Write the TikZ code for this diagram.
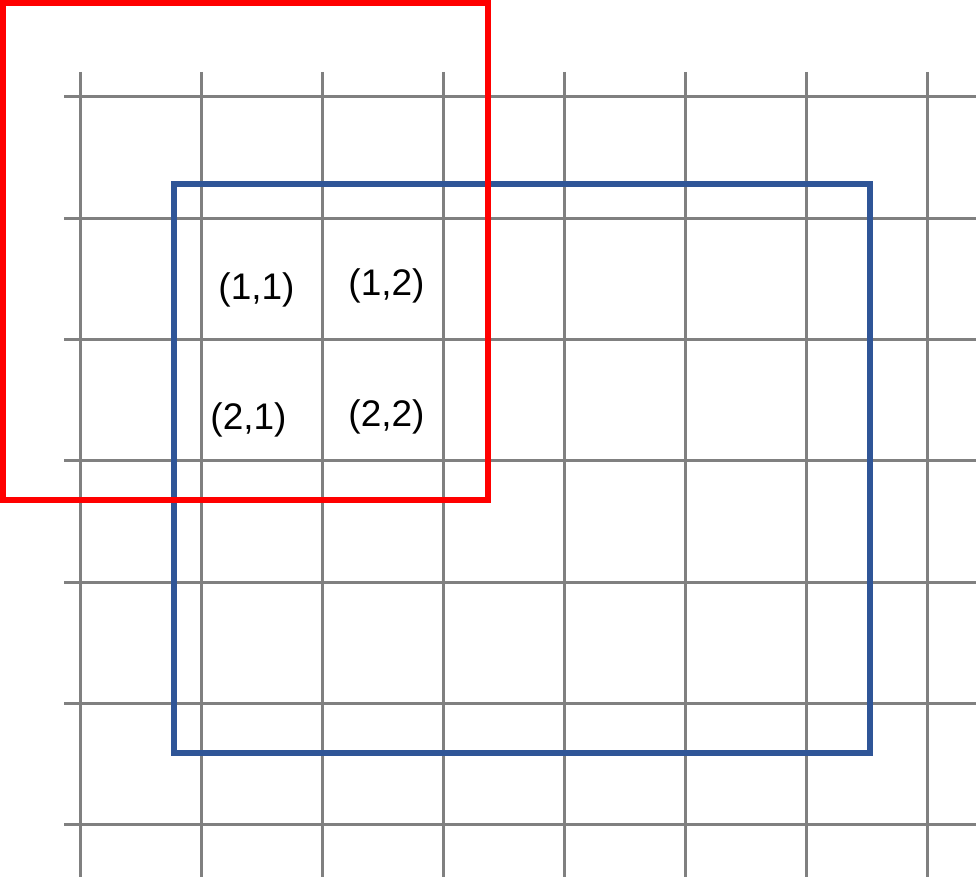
\documentclass[tikz,border=0pt]{standalone}
\usepackage{fontspec}
\setmainfont{Liberation Sans}
\definecolor{gridgray}{RGB}{128,128,128}
\definecolor{winblue}{RGB}{47,85,151}
\definecolor{winred}{RGB}{255,0,0}
\tikzstyle{grid line}=[draw=gridgray, line width=3pt]
\tikzstyle{window}=[line width=6pt]
\tikzstyle{cell label}=[inner sep=0pt, font=\fontsize{37}{40}\selectfont]

\begin{document}
\begin{tikzpicture}[x=1pt, y=-1pt]
      \useasboundingbox (0, 0) rectangle (976, 877);
      % grid
      \foreach \i in {0,...,7}
        \draw[grid line] (80+121*\i, 72) -- (80+121*\i, 877);
      \foreach \j in {0,...,6}
        \draw[grid line] (64, 97+121.3*\j) -- (976, 97+121.3*\j);
      % cell labels
      \node[cell label] (c11) at (256.5, 290) {(1,1)};
      \node[cell label] (c12) at (386.5, 286) {(1,2)};
      \node[cell label] (c21) at (248.5, 420) {(2,1)};
      \node[cell label] (c22) at (386.5, 417) {(2,2)};
      % windows
      \draw[window, draw=winblue] (174, 184) rectangle (870, 753);
      \draw[window, draw=winred] (3, 3) rectangle (488, 499.5);
    \end{tikzpicture}
\end{document}
